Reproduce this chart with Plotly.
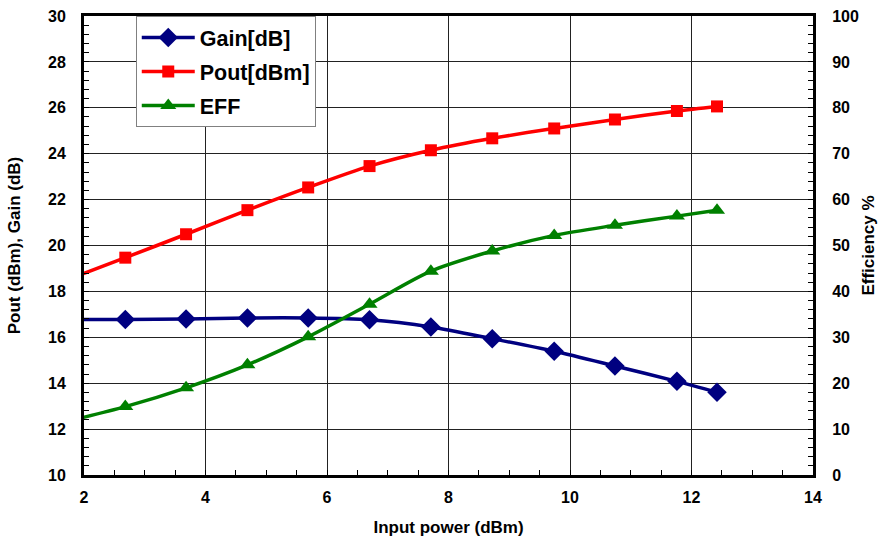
import plotly.graph_objects as go

# Data
input_power = [1.66, 2.68, 3.68, 4.69, 5.69, 6.70, 7.71, 8.72, 9.74, 10.74, 11.76, 12.42]
gain_db     = [16.77, 16.78, 16.80, 16.84, 16.84, 16.76, 16.45, 15.94, 15.39, 14.75, 14.08, 13.61]
pout_dbm    = [18.45, 19.47, 20.49, 21.54, 22.53, 23.46, 24.15, 24.67, 25.10, 25.49, 25.86, 26.06]
eff_pct     = [11.5, 14.9, 19.0, 24.0, 30.1, 37.2, 44.4, 48.8, 52.2, 54.4, 56.4, 57.7]

left_ticks = [10, 12, 14, 16, 18, 20, 22, 24, 26, 28, 30]
right_ticks = [0, 10, 20, 30, 40, 50, 60, 70, 80, 90, 100]
x_ticks = [2, 4, 6, 8, 10, 12, 14]

FONT = "Liberation Sans, Arial, sans-serif"

fig = go.Figure()
fig.add_trace(go.Scatter(
    x=input_power, y=gain_db, name="Gain[dB]", mode="lines+markers",
    line=dict(color="#000080", width=3.5, shape="spline", smoothing=0.8),
    marker=dict(symbol="diamond", size=15, color="#000080"),
    legendgroup="g1"))
fig.add_trace(go.Scatter(
    x=input_power, y=pout_dbm, name="Pout[dBm]", mode="lines+markers",
    line=dict(color="#FF0000", width=3.5, shape="spline", smoothing=0.8),
    marker=dict(symbol="square", size=12, color="#FF0000"),
    legendgroup="g2"))
fig.add_trace(go.Scatter(
    x=input_power, y=eff_pct, name="EFF", mode="lines+markers", yaxis="y2",
    line=dict(color="#008000", width=3.5, shape="spline", smoothing=0.8),
    marker=dict(symbol="triangle-up", size=14, color="#008000"),
    legendgroup="g3"))

tickfont = dict(family=FONT, size=16, color="black", weight="bold")
titlefont = dict(family=FONT, size=17, color="black", weight="bold")

fig.update_layout(
    width=878, height=538,
    margin=dict(l=84, r=65, t=16, b=63, pad=0),
    paper_bgcolor="white", plot_bgcolor="white",
    showlegend=True,
    legend=dict(x=0.071, y=1.0, xanchor="left", yanchor="top",
                bgcolor="white", bordercolor="#808080", borderwidth=1,
                font=dict(family=FONT, size=21.5, color="black", weight="bold"),
                tracegroupgap=3, itemwidth=53),
    xaxis=dict(range=[2, 14], tickvals=x_ticks, ticktext=[str(v) for v in x_ticks],
               automargin=False,
               showgrid=True, gridcolor="#222222", gridwidth=1,
               showline=True, linecolor="black", linewidth=3, mirror=True,
               ticks="inside", ticklen=0, tickfont=tickfont, ticklabelstandoff=6,
               minor=dict(dtick=0.5, tick0=2, ticks="inside", ticklen=5,
                          tickcolor="black", showgrid=False),
               title=dict(text="Input power (dBm)", font=titlefont, standoff=16),
               zeroline=False),
    yaxis=dict(range=[10, 30], tickvals=left_ticks, ticktext=[str(v) for v in left_ticks],
               automargin=False,
               showgrid=True, gridcolor="#222222", gridwidth=1,
               showline=True, linecolor="black", linewidth=3, mirror=True,
               ticks="inside", ticklen=0, tickfont=tickfont, ticklabelstandoff=12,
               minor=dict(dtick=0.4, tick0=10, ticks="inside", ticklen=5,
                          tickcolor="black", showgrid=False),
               title=dict(text="Pout (dBm), Gain (dB)", font=titlefont, standoff=24),
               zeroline=False),
    yaxis2=dict(range=[0, 100], tickvals=right_ticks, ticktext=[str(v) for v in right_ticks],
                automargin=False,
                overlaying="y", side="right", showgrid=False,
                showline=True, linecolor="black", linewidth=3,
                ticks="inside", ticklen=0, tickfont=tickfont, ticklabelstandoff=13,
                minor=dict(dtick=2, tick0=0, ticks="inside", ticklen=5,
                           tickcolor="black", showgrid=False),
                title=dict(text="Efficiency %", font=titlefont, standoff=10),
                zeroline=False),
)

fig.write_html("out.html")
